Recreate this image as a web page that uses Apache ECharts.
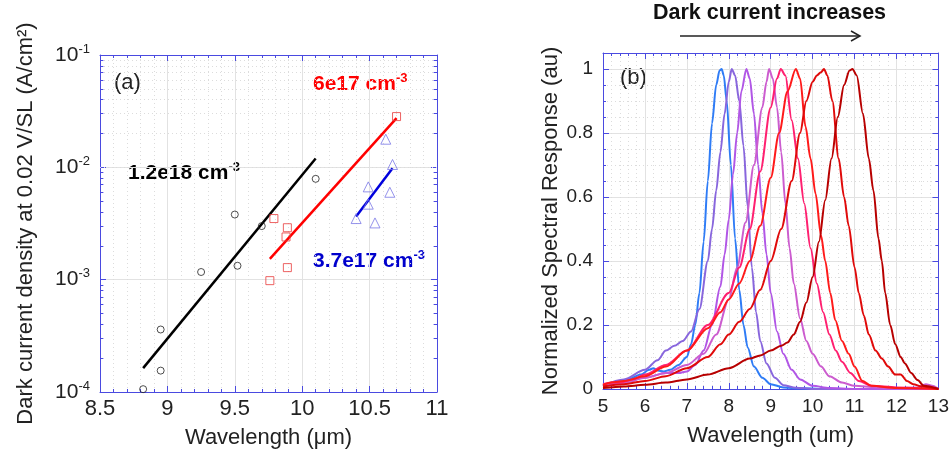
<!DOCTYPE html>
<html>
<head>
<meta charset="utf-8">
<script src="https://cdn.jsdelivr.net/npm/echarts@6/dist/echarts.min.js"></script>
<style>
  html, body { margin: 0; padding: 0; background: #fff; }
  #main { width: 952px; height: 454px; }
</style>
</head>
<body>
<div id="main"></div>
<script>
// ---- panel (a): dark current vs wavelength ----
var circleX = [8.82, 8.95, 8.95, 9.25, 9.50, 9.52, 9.70, 10.10];
var circleY = [1.06e-4, 1.55e-4, 3.6e-4, 1.17e-3, 3.8e-3, 1.33e-3, 3.0e-3, 7.9e-3];
var squareX = [9.76, 9.79, 9.88, 9.89, 9.89, 10.70];
var squareY = [9.8e-4, 3.5e-3, 2.4e-3, 2.9e-3, 1.28e-3, 2.83e-2];
var triX = [10.40, 10.49, 10.49, 10.54, 10.62, 10.65, 10.67];
var triY = [3.5e-3, 6.7e-3, 4.7e-3, 3.2e-3, 1.78e-2, 6.0e-3, 1.06e-2];
var fitBlackX = [8.82, 10.10], fitBlackY = [1.63e-4, 1.2e-2];
var fitRedX = [9.76, 10.70], fitRedY = [1.53e-3, 2.74e-2];
var fitBlueX = [10.40, 10.67], fitBlueY = [3.65e-3, 9.8e-3];

// log axis decades and the minor steps inside each one
var decades = [1e-4, 1e-3, 1e-2];
var minorSteps = [2, 3, 4, 5, 6, 7, 8, 9];

// ---- panel (b): normalized spectral response ----
var c1X = [5.0,5.3,5.6,5.9,6.1,6.2,6.3,6.45,6.6,6.8,7.0,7.1,7.2,7.3,7.4,7.5,7.6,7.7,7.78,7.83,7.88,7.95,8.05,8.15,8.25,8.35,8.45,8.6,8.8,9.0,9.3,9.7,10.5,13.0];
var c1Y = [0.012,0.02,0.03,0.045,0.06,0.065,0.058,0.055,0.06,0.075,0.1,0.14,0.2,0.3,0.46,0.65,0.83,0.95,0.995,1.0,0.98,0.9,0.7,0.47,0.31,0.2,0.13,0.07,0.035,0.015,0.005,0.002,0.0,0.0];
var c2X = [5.0,5.5,6.0,6.3,6.5,6.7,6.9,7.1,7.3,7.5,7.6,7.7,7.8,7.9,8.0,8.07,8.15,8.25,8.35,8.45,8.55,8.65,8.75,8.9,9.1,9.3,9.6,10,13];
var c2Y = [0.01,0.03,0.06,0.09,0.12,0.135,0.15,0.18,0.25,0.4,0.5,0.62,0.74,0.86,0.96,1.0,0.98,0.9,0.76,0.57,0.38,0.24,0.15,0.08,0.035,0.012,0.004,0.0,0];
var c3X = [5.0,5.5,6.0,6.5,6.8,7.0,7.2,7.4,7.6,7.8,7.9,8.0,8.1,8.2,8.3,8.42,8.5,8.6,8.7,8.8,8.9,9.0,9.15,9.3,9.5,9.7,10.0,10.4,11,13];
var c3Y = [0.008,0.02,0.035,0.05,0.05,0.055,0.075,0.12,0.2,0.32,0.42,0.53,0.67,0.8,0.93,1.0,0.97,0.86,0.7,0.55,0.42,0.3,0.18,0.11,0.06,0.03,0.01,0.003,0,0];
var c4X = [5.0,5.5,6.0,6.5,7.0,7.4,7.7,8.0,8.2,8.4,8.6,8.8,8.9,8.96,9.05,9.15,9.25,9.35,9.45,9.55,9.7,9.85,10.0,10.2,10.4,10.7,11.0,11.5,12.0,12.5,12.7,12.85,13];
var c4Y = [0.01,0.02,0.035,0.05,0.075,0.11,0.17,0.28,0.38,0.52,0.7,0.88,0.96,1.0,0.97,0.88,0.74,0.58,0.44,0.33,0.22,0.15,0.11,0.07,0.04,0.02,0.01,0.005,0.003,0.005,0.015,0.01,0];
var c5X = [5.0,5.2,5.4,5.7,6.0,6.5,7.0,7.5,8.0,8.25,8.5,8.75,9.0,9.15,9.24,9.35,9.5,9.65,9.8,9.95,10.1,10.25,10.4,10.55,10.7,10.9,11.1,11.4,12,13];
var c5Y = [0.015,0.02,0.02,0.03,0.045,0.075,0.12,0.2,0.3,0.38,0.5,0.68,0.88,0.97,1.0,0.98,0.84,0.72,0.58,0.44,0.33,0.24,0.17,0.12,0.085,0.05,0.025,0.01,0.005,0];
var c6X = [5.0,5.2,5.5,6.0,6.5,7.0,7.5,7.8,8.0,8.25,8.5,8.75,9.0,9.2,9.4,9.6,9.7,9.83,9.95,10.07,10.2,10.3,10.42,10.54,10.7,10.86,11.0,11.18,11.4,12,13];
var c6Y = [0.012,0.02,0.025,0.04,0.07,0.12,0.19,0.24,0.28,0.33,0.4,0.51,0.66,0.8,0.93,1.0,0.97,0.82,0.72,0.61,0.48,0.40,0.3,0.215,0.15,0.11,0.07,0.026,0.01,0.003,0];
var c7X = [5.0,5.5,6.0,6.5,7.0,7.5,7.8,8.0,8.25,8.5,8.75,9.0,9.25,9.5,9.7,9.85,10.0,10.1,10.2,10.27,10.35,10.47,10.62,10.75,10.86,11.0,11.1,11.22,11.34,11.5,11.65,11.8,11.97,12.1,12.25,12.4,12.6,13];
var c7Y = [0.008,0.015,0.025,0.04,0.065,0.1,0.14,0.17,0.21,0.25,0.31,0.4,0.5,0.65,0.8,0.9,0.96,0.98,0.99,1.0,0.98,0.9,0.72,0.6,0.51,0.38,0.3,0.23,0.17,0.12,0.095,0.07,0.045,0.045,0.025,0.015,0.008,0];
var c8X = [5.0,5.5,6.0,6.5,7.0,7.5,8.0,8.5,8.75,9.0,9.25,9.4,9.55,9.7,9.85,10.0,10.15,10.3,10.45,10.6,10.75,10.88,10.95,11.05,11.2,11.34,11.45,11.57,11.65,11.73,11.85,11.97,12.1,12.2,12.35,12.5,12.65,13];
var c8Y = [0.003,0.008,0.013,0.02,0.03,0.045,0.065,0.095,0.105,0.12,0.135,0.145,0.17,0.21,0.27,0.35,0.46,0.59,0.72,0.85,0.95,0.995,1.0,0.98,0.86,0.72,0.62,0.47,0.4,0.3,0.2,0.14,0.1,0.08,0.05,0.028,0.01,0];

var spectraX = [c1X, c2X, c3X, c4X, c5X, c6X, c7X, c8X];
var spectraY = [c1Y, c2Y, c3Y, c4Y, c5Y, c6Y, c7Y, c8Y];
var spectraColors = ['#2f7cf6', '#8866dd', '#b156e6', '#cc5ccf', '#ff2070', '#ff1a1a', '#e00a0a', '#b80000'];

function pairs(xs, ys) {
    return xs.map(function (x, i) { return [x, ys[i]]; });
}

var FONT = 'Arial, "Liberation Sans", sans-serif';
var frame = '#4a4ae0';
var gridMajor = { show: true, lineStyle: { color: '#e2e2e2', width: 1 } };
var gridMinor = { show: true, lineStyle: { color: '#dcdcdc', width: 1, type: [1, 3] } };

// minor values of the log axis (2..9 in each decade)
var logMinor = [];
decades.forEach(function (d) {
    minorSteps.forEach(function (m) { logMinor.push(d * m); });
});

// dotted minor grid + short inward ticks on both sides for the log axis
var logMinorLines = [];
logMinor.forEach(function (v) {
    logMinorLines.push({ yAxis: v, lineStyle: gridMinor.lineStyle });
    logMinorLines.push([{ coord: [8.5, v] }, { coord: [8.525, v], lineStyle: { color: frame, type: 'solid', width: 1 } }]);
    logMinorLines.push([{ coord: [10.975, v] }, { coord: [11, v], lineStyle: { color: frame, type: 'solid', width: 1 } }]);
});

function mirror(base) {
    return Object.assign({
        axisLine: { show: true, onZero: false, lineStyle: { color: frame, width: 1 } },
        axisTick: { show: true, inside: true, length: 6, lineStyle: { color: frame } },
        axisLabel: { show: false },
        splitLine: { show: false }
    }, base);
}

var myChart = echarts.init(document.getElementById('main'));

var series = [
    { name: 'fit 1.2e18', type: 'line', xAxisIndex: 0, yAxisIndex: 0, data: pairs(fitBlackX, fitBlackY),
      showSymbol: false, lineStyle: { color: '#000', width: 2.5 }, z: 3,
      markLine: { silent: true, symbol: 'none', label: { show: false }, animation: false, z: 1,
                  emphasis: { disabled: true }, data: logMinorLines } },
    { name: 'fit 6e17', type: 'line', xAxisIndex: 0, yAxisIndex: 0, data: pairs(fitRedX, fitRedY),
      showSymbol: false, lineStyle: { color: '#ff0000', width: 2.5 }, z: 3 },
    { name: 'fit 3.7e17', type: 'line', xAxisIndex: 0, yAxisIndex: 0, data: pairs(fitBlueX, fitBlueY),
      showSymbol: false, lineStyle: { color: '#0000dd', width: 2.5 }, z: 3 },
    { name: '1.2e18', type: 'scatter', xAxisIndex: 0, yAxisIndex: 0, data: pairs(circleX, circleY),
      symbol: 'circle', symbolSize: 7,
      itemStyle: { color: 'rgba(0,0,0,0)', borderColor: '#222', borderWidth: 1 }, z: 4 },
    { name: '6e17', type: 'scatter', xAxisIndex: 0, yAxisIndex: 0, data: pairs(squareX, squareY),
      symbol: 'rect', symbolSize: 8,
      itemStyle: { color: 'rgba(0,0,0,0)', borderColor: '#e83c3c', borderWidth: 1 }, z: 4 },
    { name: '3.7e17', type: 'scatter', xAxisIndex: 0, yAxisIndex: 0, data: pairs(triX, triY),
      symbol: 'triangle', symbolSize: 10,
      itemStyle: { color: 'rgba(0,0,0,0)', borderColor: '#7b78e6', borderWidth: 1 }, z: 4 }
];

spectraX.forEach(function (xs, i) {
    series.push({
        name: 'spectrum ' + (i + 1), type: 'line', xAxisIndex: 2, yAxisIndex: 2,
        data: pairs(xs, spectraY[i]), showSymbol: false, smooth: 0.3, smoothMonotone: 'x',
        lineStyle: { color: spectraColors[i], width: 2 }
    });
});

function supText(base, color) {
    return {
        text: '{b|' + base + '}{s|-3}', fill: color,
        rich: { b: { fontSize: 21, fontWeight: 'bold', fill: color, fontFamily: FONT },
                s: { fontSize: 13, fontWeight: 'bold', fill: color, fontFamily: FONT, padding: [0, 0, 12, 0] } }
    };
}

myChart.setOption({
    backgroundColor: '#fff',
    animation: false,
    textStyle: { fontFamily: FONT },
    grid: [
        { left: 100, top: 55, width: 337, height: 337 },
        { left: 603, top: 53, width: 337, height: 336 }
    ],
    xAxis: [
        {
            type: 'value', gridIndex: 0, min: 8.5, max: 11, interval: 0.5,
            axisLine: { show: true, lineStyle: { color: frame } },
            axisTick: { inside: true, length: 6, lineStyle: { color: frame } },
            minorTick: { show: true, splitNumber: 5, length: 3, lineStyle: { color: frame } },
            axisLabel: { color: '#222', fontSize: 22, margin: 6 },
            splitLine: gridMajor, minorSplitLine: gridMinor,
            name: 'Wavelength (\u03bcm)', nameLocation: 'middle', nameGap: 35,
            nameTextStyle: { color: '#222', fontSize: 22 }
        },
        mirror({ type: 'value', gridIndex: 0, position: 'top', min: 8.5, max: 11, interval: 0.5,
                 minorTick: { show: true, splitNumber: 5, length: 3, lineStyle: { color: frame } } }),
        {
            type: 'value', gridIndex: 1, min: 5, max: 13, interval: 1,
            axisLine: { show: true, lineStyle: { color: frame } },
            axisTick: { inside: true, length: 6, lineStyle: { color: frame } },
            minorTick: { show: true, splitNumber: 5, length: 3, lineStyle: { color: frame } },
            axisLabel: { color: '#222', fontSize: 19, margin: 8 },
            splitLine: gridMajor, minorSplitLine: gridMinor,
            name: 'Wavelength (um)', nameLocation: 'middle', nameGap: 36,
            nameTextStyle: { color: '#222', fontSize: 22 }
        },
        mirror({ type: 'value', gridIndex: 1, position: 'top', min: 5, max: 13, interval: 1,
                 minorTick: { show: true, splitNumber: 5, length: 3, lineStyle: { color: frame } } })
    ],
    yAxis: [
        {
            type: 'log', gridIndex: 0, min: 1e-4, max: 1e-1, logBase: 10,
            axisLine: { show: true, lineStyle: { color: frame } },
            axisTick: { inside: true, length: 6, lineStyle: { color: frame } },
            minorTick: { show: false },
            axisLabel: {
                margin: 10,
                formatter: function (v) {
                    return '{b|10}{s|' + Math.round(Math.log10(v)) + '}';
                },
                rich: {
                    b: { fontSize: 21, color: '#222', fontFamily: FONT },
                    s: { fontSize: 13, color: '#222', fontFamily: FONT, padding: [0, 0, 12, 0] }
                }
            },
            splitLine: gridMajor, minorSplitLine: { show: false },
            name: 'Dark current density at 0.02 V/SL (A/cm\u00b2)', nameLocation: 'middle', nameGap: 63,
            nameTextStyle: { color: '#222', fontSize: 22 }
        },
        mirror({ type: 'log', gridIndex: 0, position: 'right', min: 1e-4, max: 1e-1, logBase: 10,
                 minorTick: { show: false } }),
        {
            type: 'value', gridIndex: 1, min: 0, max: 1.05, interval: 0.2,
            axisLine: { show: true, lineStyle: { color: frame } },
            axisTick: { inside: true, length: 6, lineStyle: { color: frame } },
            minorTick: { show: true, splitNumber: 4, length: 3, lineStyle: { color: frame } },
            axisLabel: { color: '#222', fontSize: 19, margin: 10, showMaxLabel: false },
            splitLine: gridMajor, minorSplitLine: gridMinor,
            name: 'Normalized Spectral Response (au)', nameLocation: 'middle', nameGap: 41,
            nameTextStyle: { color: '#222', fontSize: 22 }
        },
        mirror({ type: 'value', gridIndex: 1, position: 'right', min: 0, max: 1.05, interval: 0.2,
                 minorTick: { show: true, splitNumber: 4, length: 3, lineStyle: { color: frame } } })
    ],
    graphic: [
        { type: 'text', left: 114, top: 72, style: { text: '(a)', fontSize: 22, fill: '#222', fontFamily: FONT } },
        { type: 'text', left: 620, top: 67, style: { text: '(b)', fontSize: 22, fill: '#222', fontFamily: FONT } },
        { type: 'text', left: 313, top: 72, style: supText('6e17 cm', '#ff0000') },
        { type: 'text', left: 128, top: 161, style: supText('1.2e18 cm', '#000') },
        { type: 'text', left: 313, top: 249, style: supText('3.7e17 cm', '#0000cc') },
        { type: 'text', left: 653, top: 2, style: { text: 'Dark current increases', fontSize: 21.5, fontWeight: 'bold', fill: '#111', fontFamily: FONT } },
        { type: 'line', shape: { x1: 680, y1: 36, x2: 860, y2: 36 }, style: { stroke: '#222', lineWidth: 1.5 } },
        { type: 'polyline', shape: { points: [[851, 31], [860, 36], [851, 41]] }, style: { stroke: '#222', lineWidth: 1.5, fill: null } }
    ],
    series: series
});
</script>
</body>
</html>
